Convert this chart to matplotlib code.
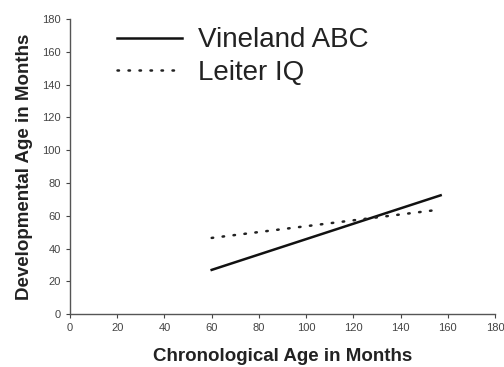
import numpy as np
from matplotlib import pyplot as plt

plt.rcParams['font.family'] = ['Liberation Sans', 'DejaVu Sans']

# regression lines (chronological age -> developmental age)
vineland_x = [60, 157]
vineland_y = [27, 72.5]
leiter_x = [60, 155]
leiter_y = [46.5, 63.5]

x_ticks = np.arange(0, 181, 20)
y_ticks = np.arange(0, 181, 20)

fig = plt.figure(figsize=(5.04, 3.67), dpi=100)
ax = fig.add_axes([0.139, 0.144, 0.843, 0.804])

ax.plot(vineland_x, vineland_y, color='#111111', lw=1.8, ls='-', label='Vineland ABC')
ax.plot(leiter_x, leiter_y, color='#222222', lw=1.8, ls=(0, (0.6, 3.8)),
        dash_capstyle='round', label='Leiter IQ')

ax.set_xlim(0, 180)
ax.set_ylim(0, 180)
ax.set_xticks(x_ticks)
ax.set_yticks(y_ticks)
ax.tick_params(labelsize=8, labelcolor='#444444', color='#444444', length=3, width=0.8)
for side in ['top', 'right']:
    ax.spines[side].set_visible(False)
for side in ['left', 'bottom']:
    ax.spines[side].set_color('#555555')
    ax.spines[side].set_linewidth(1.0)

ax.set_xlabel('Chronological Age in Months', fontsize=13.5, fontweight='bold', color='#222222', labelpad=11)
ax.set_ylabel('Developmental Age in Months', fontsize=13.5, fontweight='bold', color='#222222', labelpad=7)

ax.legend(loc='upper left', bbox_to_anchor=(0.052, 1.057), frameon=False, fontsize=20,
          handlelength=2.35, handletextpad=0.55, labelspacing=0.25, labelcolor='#222222')

fig.savefig('out.png', dpi=100)
